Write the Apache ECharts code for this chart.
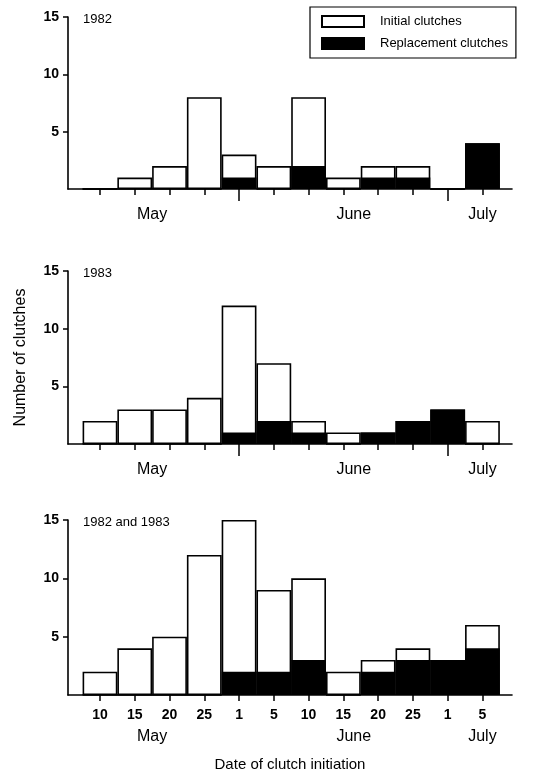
<!DOCTYPE html>
<html><head><meta charset="utf-8">
<script src="https://cdn.jsdelivr.net/npm/echarts@6/dist/echarts.min.js"></script>
<style>html,body{margin:0;padding:0;background:#fff}#c{width:534px;height:773px}</style>
</head><body><div id="c"></div>
<script>
const binLabels = ['10','15','20','25','1','5','10','15','20','25','1','5'];
const monthNames = ['May','June','July'];
const monthAt = [1.5, 7.3, 11];
const monthStartBins = [4, 10];
const yTicks = [5, 10, 15];
const panelTitles = ['1982','1983','1982 and 1983'];
const initial1982 = [0,1,2,8,2,2,6,1,1,1,0,0];
const replacement1982 = [0,0,0,0,1,0,2,0,1,1,0,4];
const initial1983 = [2,3,3,4,11,5,1,1,0,0,0,2];
const replacement1983 = [0,0,0,0,1,2,1,0,1,2,3,0];
const initialBoth = [2,4,5,12,13,7,7,2,1,1,0,2];
const replacementBoth = [0,0,0,0,2,2,3,0,2,3,3,4];

const initials = [initial1982, initial1983, initialBoth];
const replacements = [replacement1982, replacement1983, replacementBoth];
const FONT = 'Liberation Sans, Arial, Helvetica, sans-serif';
const binIdx = binLabels.map((_, i) => i);

const grids = [
  {left: 68, right: 22, top: 17, height: 172},
  {left: 68, right: 22, top: 271, height: 173},
  {left: 68, right: 22, top: 520, height: 176}
];
const XMIN = -0.92, XMAX = 11.85;
const xAxis = [], yAxis = [], series = [], title = [];
grids.forEach((g, i) => {
  const bottom = i === 2;
  xAxis.push({
    type: 'value', gridIndex: i, min: XMIN, max: XMAX, position: 'bottom',
    axisLine: {show: true, onZero: false, lineStyle: {color: '#000', width: 1.6}},
    axisTick: {show: true, customValues: binIdx, length: 6, lineStyle: {color: '#000', width: 1.5}},
    axisLabel: bottom ? {show: true, customValues: binIdx, margin: 13,
      formatter: v => binLabels[Math.round(v)], color: '#000', fontFamily: FONT, fontWeight: 'bold', fontSize: 14}
      : {show: false},
    splitLine: {show: false},
    name: bottom ? 'Date of clutch initiation' : '', nameLocation: 'middle', nameGap: 62,
    nameTextStyle: {color: '#000', fontFamily: FONT, fontSize: 15}
  });
  xAxis.push({
    type: 'value', gridIndex: i, min: XMIN, max: XMAX, position: 'bottom',
    axisLine: {show: false, onZero: false},
    axisTick: {show: !bottom, customValues: monthStartBins, length: 12, lineStyle: {color: '#000', width: 1.5}},
    axisLabel: {show: false}, splitLine: {show: false}
  });
  xAxis.push({
    type: 'value', gridIndex: i, min: XMIN, max: XMAX, position: 'bottom',
    axisLine: {show: false, onZero: false}, axisTick: {show: false}, splitLine: {show: false},
    axisLabel: {show: true, customValues: monthAt, margin: bottom ? 34 : 18,
      formatter: v => {
        let best = 0;
        monthAt.forEach((m, k) => { if (Math.abs(m - v) < Math.abs(monthAt[best] - v)) best = k; });
        return monthNames[best];
      },
      color: '#000', fontFamily: FONT, fontSize: 16}
  });
  yAxis.push({
    type: 'value', gridIndex: i, min: 0, max: 15, interval: 5, position: 'left',
    axisLine: {show: true, onZero: false, lineStyle: {color: '#000', width: 1.6}},
    axisTick: {show: true, customValues: yTicks, length: 5, lineStyle: {color: '#000', width: 1.5}},
    axisLabel: {customValues: yTicks, color: '#000', fontFamily: FONT, fontWeight: 'bold', fontSize: 14, margin: 9},
    splitLine: {show: false},
    name: i === 1 ? 'Number of clutches' : '', nameLocation: 'middle', nameGap: 39,
    nameTextStyle: {color: '#000', fontFamily: FONT, fontSize: 16}
  });
  title.push({
    text: panelTitles[i], left: 78, top: g.top - 9,
    textStyle: {color: '#000', fontFamily: FONT, fontSize: 13, fontWeight: 'normal'}
  });
  // total height (white, outlined) with the replacement part (black) drawn over its lower portion
  series.push({
    name: 'Initial clutches', type: 'bar',
    xAxisIndex: i * 3, yAxisIndex: i, barWidth: 34.8, barGap: '-100%',
    data: initials[i].map((v, k) => [k, v + replacements[i][k]]),
    itemStyle: {color: '#fff', borderColor: '#000', borderWidth: 1.6},
    emphasis: {disabled: true}, silent: true
  });
  series.push({
    name: 'Replacement clutches', type: 'bar',
    xAxisIndex: i * 3, yAxisIndex: i, barWidth: 34.8, barGap: '-100%',
    data: replacements[i].map((v, k) => [k, v]),
    itemStyle: {color: '#000', borderColor: '#000', borderWidth: 1.5},
    emphasis: {disabled: true}, silent: true
  });
});

const chart = echarts.init(document.getElementById('c'), null, {renderer: 'canvas'});
chart.setOption({
  animation: false,
  backgroundColor: '#fff',
  title: title,
  legend: {
    data: ['Initial clutches', 'Replacement clutches'],
    orient: 'vertical', left: 310, top: 7,
    backgroundColor: '#fff', borderColor: '#000', borderWidth: 1.2, borderRadius: 0,
    padding: [8, 8, 8, 11], itemWidth: 42, itemHeight: 11, itemGap: 9,
    icon: 'rect', selectedMode: false,
    textStyle: {color: '#000', fontFamily: FONT, fontSize: 13, padding: [0, 0, 0, 11]}
  },
  grid: grids,
  xAxis: xAxis,
  yAxis: yAxis,
  series: series
});
</script></body></html>
